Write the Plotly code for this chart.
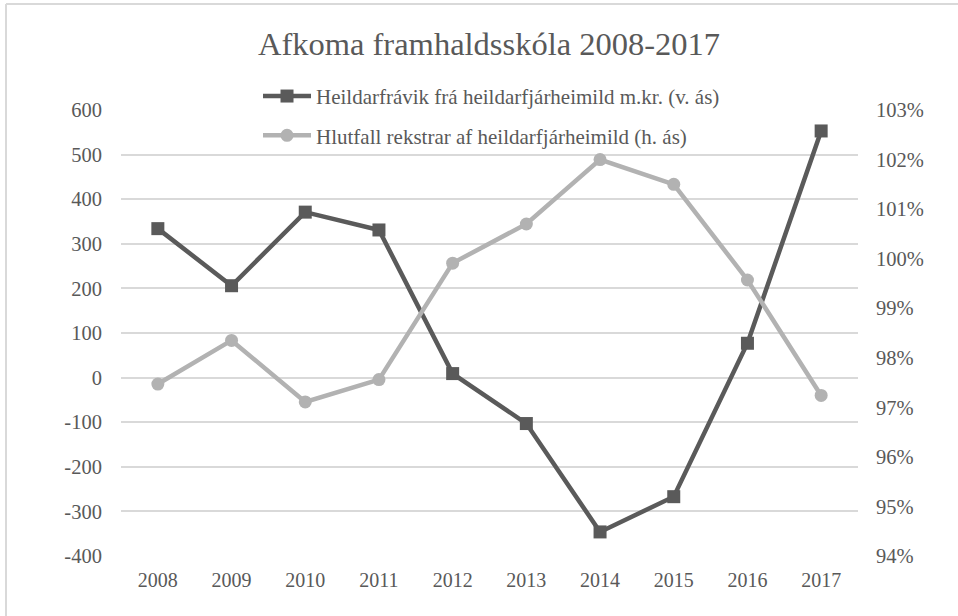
import plotly.graph_objects as go

years = ["2008", "2009", "2010", "2011", "2012", "2013", "2014", "2015", "2016", "2017"]
frávik = [334, 206, 371, 331, 9, -103, -346, -267, 77, 553]
hlutfall = [97.47, 98.35, 97.11, 97.56, 99.91, 100.70, 102.00, 101.50, 99.57, 97.24]

left_ticks = [-400, -300, -200, -100, 0, 100, 200, 300, 400, 500, 600]
left_labels = ["-400", "-300", "-200", "-100", "0", "100", "200", "300", "400", "500", "600"]
right_ticks = [94, 95, 96, 97, 98, 99, 100, 101, 102, 103]
right_labels = ["94%", "95%", "96%", "97%", "98%", "99%", "100%", "101%", "102%", "103%"]

name1 = "Heildarfrávik frá heildarfjárheimild m.kr. (v. ás)"
name2 = "Hlutfall rekstrar af heildarfjárheimild (h. ás)"

FONT = "Times New Roman, Liberation Serif, serif"
TXT = "#595959"
DARK = "#5a5a5a"
LIGHT = "#b2b2b2"
GRID = "#d9d9d9"

fig = go.Figure()
fig.add_trace(go.Scatter(
    x=years, y=frávik, name=name1, mode="lines+markers", legendgroup="a",
    line=dict(color=DARK, width=4.5),
    marker=dict(symbol="square", size=13, color=DARK),
    yaxis="y",
))
fig.add_trace(go.Scatter(
    x=years, y=hlutfall, name=name2, mode="lines+markers", legendgroup="b",
    line=dict(color=LIGHT, width=4.5),
    marker=dict(symbol="circle", size=13, color=LIGHT),
    yaxis="y2",
))

bx0 = (6 - 121) / 737
bx1 = (1100 - 121) / 737
by0 = (556 - 800) / 446
by1 = (556 - 4) / 446

fig.update_layout(
    width=958, height=616,
    margin=dict(l=121, r=100, t=110, b=60),
    paper_bgcolor="white", plot_bgcolor="white",
    font=dict(family=FONT, size=20, color=TXT),
    title=dict(text="Afkoma framhaldsskóla 2008-2017", x=489/958, xanchor="center",
               y=1 - 44/616, yanchor="middle",
               font=dict(family=FONT, size=32.5, color=TXT)),
    showlegend=True,
    legend=dict(x=0.1859, xanchor="left", y=1.0765, yanchor="top",
                orientation="v", traceorder="grouped", tracegroupgap=9,
                itemwidth=48, bgcolor="rgba(0,0,0,0)",
                font=dict(family=FONT, size=21, color=TXT)),
    xaxis=dict(type="category", range=[-0.5, 9.5], showgrid=False, zeroline=False,
               showline=False, ticks="outside", ticklen=6, tickcolor="rgba(0,0,0,0)",
               tickfont=dict(family=FONT, size=20, color=TXT)),
    yaxis=dict(range=[-400, 600], tickvals=left_ticks, ticktext=left_labels,
               showgrid=True, gridcolor=GRID, gridwidth=1.5, zeroline=False,
               showline=False, ticks="outside", ticklen=14, tickcolor="rgba(0,0,0,0)",
               tickfont=dict(family=FONT, size=20.5, color=TXT)),
    yaxis2=dict(range=[94, 103], tickvals=right_ticks, ticktext=right_labels,
                overlaying="y", side="right", showgrid=False, zeroline=False,
                showline=False, ticks="outside", ticklen=13, tickcolor="rgba(0,0,0,0)",
                tickfont=dict(family=FONT, size=20.5, color=TXT)),
    shapes=[
        dict(type="line", xref="paper", yref="paper", x0=bx0, x1=bx1, y0=by1, y1=by1,
             line=dict(color=GRID, width=2), layer="below"),
        dict(type="line", xref="paper", yref="paper", x0=bx0, x1=bx0, y0=by0, y1=by1,
             line=dict(color=GRID, width=2), layer="below"),
    ],
)

fig.write_html("out.html", config={"displayModeBar": False},
               post_script="document.body.style.margin='0';"
                           "document.body.style.overflow='hidden';"
                           "document.documentElement.style.overflow='hidden';")
